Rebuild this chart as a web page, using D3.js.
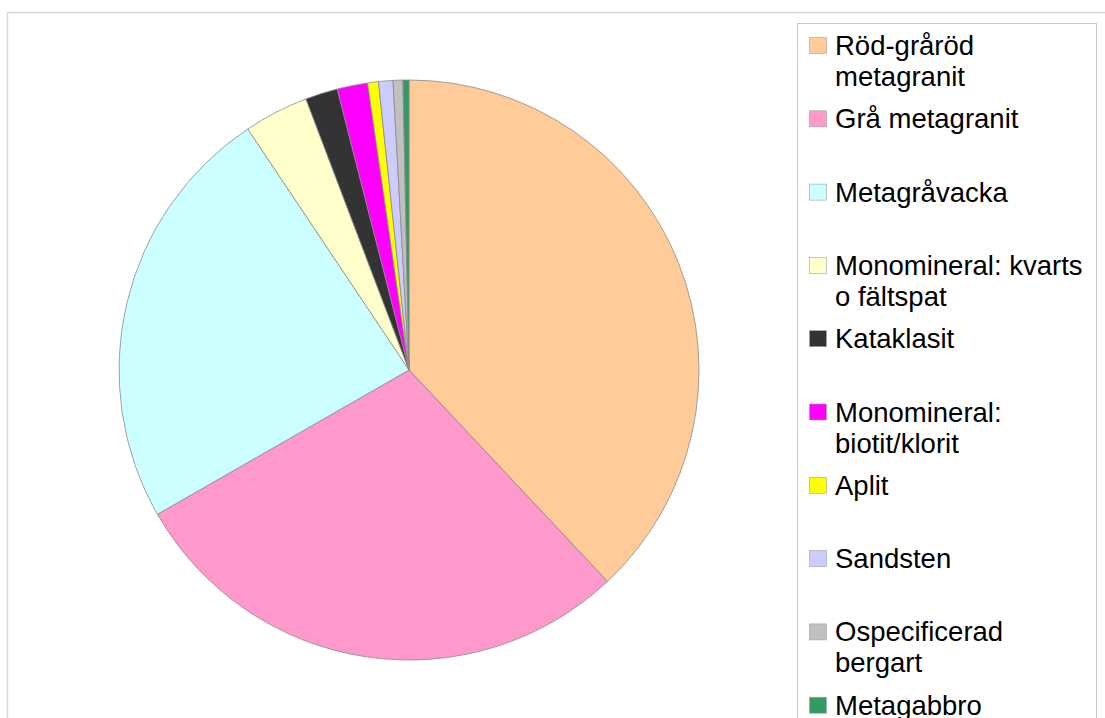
<!DOCTYPE html>
<html>
<head>
<meta charset="utf-8">
<script src="https://cdn.jsdelivr.net/npm/d3@7"></script>
<style>
    body { margin: 0; background: #ffffff; }
    svg { display: block; }
</style>
</head>
<body>
<div id="chartContainer"></div>
<script>
// Rock types (legend order = slice order, clockwise from 12 o'clock)
var categories = ['Röd-gråröd metagranit', 'Grå metagranit', 'Metagråvacka',
    'Monomineral: kvarts o fältspat', 'Kataklasit', 'Monomineral: biotit/klorit',
    'Aplit', 'Sandsten', 'Ospecificerad bergart', 'Metagabbro'];

// How the legend text wraps
var legendLines = [['Röd-gråröd', 'metagranit'], ['Grå metagranit'], ['Metagråvacka'],
    ['Monomineral: kvarts', 'o fältspat'], ['Kataklasit'], ['Monomineral:', 'biotit/klorit'],
    ['Aplit'], ['Sandsten'], ['Ospecificerad', 'bergart'], ['Metagabbro']];

// Share in percent
var shares = [38.0, 28.7, 23.9, 3.6, 1.8, 1.7, 0.6, 0.8, 0.55, 0.33];

var colours = ['#FFCC99', '#FF99CC', '#CCFFFF', '#FFFFCC', '#333333',
    '#FF00FF', '#FFFF00', '#CCCCFF', '#C0C0C0', '#339966'];

var width = 1105;
var height = 718;

var pieCenterX = 409;
var pieCenterY = 370;
var pieRadius = 290;

var legendX = 797;
var legendY = 23;
var legendWidth = 299;
var legendFirstBaseline = 55;
var legendStep = 73.3;
var legendLineHeight = 31;
var swatchX = 809;
var swatchSize = 17;
var textX = 835;
var fontSize = 27.5;

var svg = d3.select('#chartContainer').append('svg')
    .attr('width', width)
    .attr('height', height);

// Outer chart frame (continues past the right and bottom edge)
svg.append('rect')
    .attr('x', 7.5)
    .attr('y', 12.5)
    .attr('width', width + 20)
    .attr('height', height + 20)
    .attr('fill', '#ffffff')
    .attr('stroke', '#d9d9d9')
    .attr('stroke-width', 1.5);

// Pie
var slices = categories.map(function (name, i) {
    return { name: name, value: shares[i], colour: colours[i] };
});

var pie = d3.pie()
    .sort(null)
    .value(function (d) { return d.value; });

var arc = d3.arc()
    .innerRadius(0)
    .outerRadius(pieRadius);

var pieGroup = svg.append('g')
    .attr('transform', 'translate(' + pieCenterX + ',' + pieCenterY + ')');

pieGroup.selectAll('path')
    .data(pie(slices))
    .enter()
    .append('path')
    .attr('d', arc)
    .attr('fill', function (d) { return d.data.colour; })
    .attr('stroke', '#8a8a8a')
    .attr('stroke-width', 0.8)
    .attr('stroke-linejoin', 'round');

// Legend box
svg.append('rect')
    .attr('x', legendX + 0.5)
    .attr('y', legendY + 0.5)
    .attr('width', legendWidth)
    .attr('height', height)
    .attr('fill', '#ffffff')
    .attr('stroke', '#c8c8c8')
    .attr('stroke-width', 1);

var items = svg.append('g').selectAll('g')
    .data(slices)
    .enter()
    .append('g')
    .attr('transform', function (d, i) {
        return 'translate(0,' + (legendFirstBaseline + i * legendStep) + ')';
    });

items.append('rect')
    .attr('x', swatchX + 0.5)
    .attr('y', -swatchSize - 0.5)
    .attr('width', swatchSize)
    .attr('height', swatchSize - 1)
    .attr('fill', function (d) { return d.colour; })
    .attr('stroke', '#a0a0a0')
    .attr('stroke-width', 0.6);

items.append('text')
    .attr('x', textX)
    .attr('y', 0)
    .attr('font-family', 'Liberation Sans, Arial, sans-serif')
    .attr('font-size', fontSize + 'px')
    .attr('fill', '#000000')
    .selectAll('tspan')
    .data(function (d, i) { return legendLines[i]; })
    .enter()
    .append('tspan')
    .attr('x', textX)
    .attr('dy', function (d, j) { return j === 0 ? 0 : legendLineHeight; })
    .text(function (d) { return d; });
</script>
</body>
</html>
